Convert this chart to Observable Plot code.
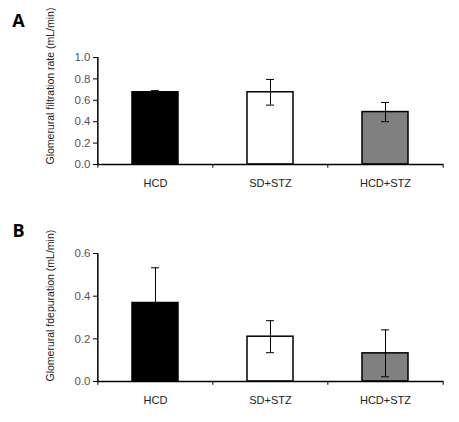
<!DOCTYPE html>
<html>
<head>
<meta charset="utf-8">
<script src="https://cdn.jsdelivr.net/npm/d3@7"></script>
<script src="https://cdn.jsdelivr.net/npm/@observablehq/plot@0.6"></script>
<style>
  body { margin: 0; background: #fff; }
  #chart svg { display: block; }
</style>
</head>
<body>
<div id="chart"></div>
<script>
const groups = ['HCD', 'SD+STZ', 'HCD+STZ'];
const colors = ['#000000', '#ffffff', '#808080'];

// panel A: glomerular filtration rate
const gfrMean = [0.675, 0.675, 0.49];
const gfrErr = [0.015, 0.12, 0.09];

// panel B: glomerular depuration
const depMean = [0.368, 0.21, 0.132];
const depErr = [0.165, 0.075, 0.11];

const W = 459;
const ML = 97, MR = 16;
const step = (W - ML - MR) / 3; // paddingOuter 0.3 + paddingInner 0.6 -> 3 steps

function panel({letter, means, errs, yMax, yTicks, label, height, marginTop, marginBottom, tickDrop}) {
  const rows = groups.map((g, i) => ({g, v: means[i], lo: means[i] - errs[i], hi: means[i] + errs[i], c: colors[i]}));
  return Plot.plot({
    width: W,
    height,
    marginLeft: ML,
    marginRight: MR,
    marginTop,
    marginBottom,
    style: {fontFamily: 'Liberation Sans, Arial, sans-serif', background: '#fff'},
    x: {domain: groups, paddingInner: 0.6, paddingOuter: 0.3},
    y: {domain: [0, yMax]},
    marks: [
      Plot.barY(rows, {x: 'g', y: 'v', fill: 'c', stroke: '#000', strokeWidth: 1.5}),
      Plot.ruleX(rows, {x: 'g', y1: 'lo', y2: 'hi', stroke: '#000', strokeWidth: 1}),
      Plot.tickY(rows, {x: 'g', y: 'lo', stroke: '#000', strokeWidth: 1, insetLeft: 19, insetRight: 19}),
      Plot.tickY(rows, {x: 'g', y: 'hi', stroke: '#000', strokeWidth: 1, insetLeft: 19, insetRight: 19}),
      // x axis line and group boundary ticks
      Plot.ruleY([0], {stroke: '#000', strokeWidth: 1.5}),
      Plot.ruleX(groups, {x: d => d, y1: 0, y2: -tickDrop, dx: -step / 2, stroke: '#000'}),
      Plot.ruleX(groups.slice(-1), {x: d => d, y1: 0, y2: -tickDrop, dx: step / 2, stroke: '#000'}),
      // y axis line
      Plot.ruleX(groups.slice(0, 1), {x: d => d, y1: 0, y2: yMax, dx: -step / 2, stroke: '#000', strokeWidth: 1.5}),
      Plot.axisY(yTicks, {
        label: null, tickSize: 4, tickPadding: 3, tickFormat: '.1f',
        fontSize: 11.5, color: '#555', stroke: '#000'
      }),
      Plot.axisX({label: null, tickSize: 0, tickPadding: 15, fontSize: 11, color: '#222'}),
      Plot.text([label], {
        frameAnchor: 'bottom-left', rotate: -90, textAnchor: 'start',
        dx: -44, dy: 0, fontSize: 10.5, fill: '#222'
      }),
      Plot.text([letter], {
        frameAnchor: 'top-left', textAnchor: 'middle', dx: -79, dy: -marginTop + 14,
        fontSize: 18, fontWeight: 'bold', fill: '#000', fontFamily: 'Open Sans, sans-serif'
      })
    ]
  });
}

const chartA = panel({
  letter: 'A', means: gfrMean, errs: gfrErr, yMax: 1.0,
  yTicks: [0, 0.2, 0.4, 0.6, 0.8, 1.0],
  label: 'Glomerural filtration rate (mL/min)',
  height: 210, marginTop: 57, marginBottom: 46, tickDrop: 0.035
});

const chartB = panel({
  letter: 'B', means: depMean, errs: depErr, yMax: 0.6,
  yTicks: [0, 0.2, 0.4, 0.6],
  label: 'Glomerural fdepuration (mL/min)',
  height: 212, marginTop: 43, marginBottom: 41, tickDrop: 0.018
});

d3.select('#chart').append(() => chartA);
d3.select('#chart').append(() => chartB);
</script>
</body>
</html>
